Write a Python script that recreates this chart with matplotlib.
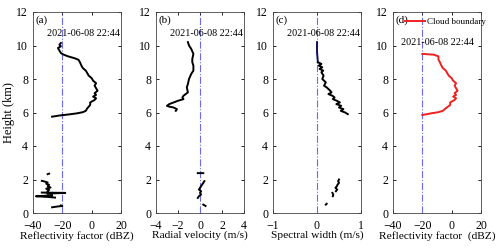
import numpy as np
import matplotlib
matplotlib.use('Agg')
import matplotlib.pyplot as plt

nan = np.nan
stamp = '2021-06-08 22:44'

# (a) reflectivity factor (dBZ) vs height (km)
h_cloud = [5.75, 5.82, 5.88, 5.95, 6.02, 6.1, 6.25, 6.45, 6.6, 6.75, 6.85, 6.95, 7.05, 7.15,
           7.3, 7.45, 7.6, 7.75, 7.9, 8.05, 8.2, 8.35, 8.5, 8.65, 8.8, 9.0, 9.15, 9.25, 9.35,
           9.45, 9.55, 9.7, 9.85, 9.95, 10.05, 10.15]
z_cloud = [-27, -22, -16, -10, -6, -4, -3, -1, -1, 2, 3, 1, 3, 2, 4, 3, 2, 3, 1, 0, -2, -3,
           -4, -6, -7, -8, -9, -12, -16, -19, -21, -22, -23, -21, -22, -21]
h_low_a = [2.35, 2.32, nan, 1.92, 1.88, 1.82, 1.75, 1.68, 1.6, 1.52, 1.45, 1.38, 1.3, nan,
           1.22, 1.2, 1.16, nan, 1.05, 1.0, 0.96, 0.92, nan, 0.45, 0.42, 0.38, 0.34]
z_low_a = [-29, -30, nan, -34, -32, -30, -31, -29, -30, -28, -31, -29, -30, nan,
           -34, -18, -30, nan, -27, -38, -30, -25, nan, -21, -20, -24, -27]

# (b) radial velocity (m/s)
h_vel = [10.2, 10.0, 9.8, 9.5, 9.2, 9.0, 8.8, 8.5, 8.3, 8.0, 7.7, 7.5, 7.2, 7.0, 6.9, 6.8,
         6.7, 6.6, 6.5, 6.4, 6.35, 6.3, 6.2, 6.1]
v_vel = [-1.1, -1.0, -0.8, -0.6, -0.7, -0.7, -0.6, -0.6, -0.8, -1.0, -1.1, -1.2, -1.1, -1.5,
         -1.6, -1.5, -2.0, -2.4, -2.8, -3.0, -2.8, -2.4, -2.1, -2.2]
h_low_b = [2.38, 2.38, nan, 1.9, 1.8, 1.7, 1.6, 1.5, 1.4, 1.3, 1.2, 1.1, 1.0, 0.9, nan, 0.5, 0.42]
v_low_b = [-0.2, 0.3, nan, 0.4, 0.3, 0.2, 0.1, 0.0, -0.1, 0.1, 0.0, 0.1, -0.1, -0.2, nan, 0.3, 0.5]

# (c) spectral width (m/s)
h_sw = [10.2, 9.6, 9.0, 8.9, 8.8, 8.7, 8.6, 8.5, 8.4, 8.2, 8.0, 7.8, 7.6, 7.5, 7.3, 7.2, 7.1,
        7.0, 6.9, 6.8, 6.7, 6.6, 6.5, 6.4, 6.3, 6.2, 6.1, 6.0, 5.9]
w_sw = [0.0, 0.0, 0.02, 0.1, 0.04, 0.12, 0.06, 0.14, 0.1, 0.15, 0.12, 0.2, 0.16, 0.22, 0.3,
        0.33, 0.26, 0.35, 0.4, 0.36, 0.45, 0.52, 0.44, 0.55, 0.5, 0.6, 0.54, 0.64, 0.7]
h_low_c = [2.0, 1.9, 1.8, 1.7, nan, 1.6, 1.5, 1.4, 1.3, nan, 1.2, 1.1, 1.0, nan, 0.55, 0.5]
w_low_c = [0.5, 0.48, 0.5, 0.47, nan, 0.45, 0.42, 0.46, 0.43, nan, 0.35, 0.37, 0.36, nan, 0.22, 0.2]

# (d) cloud boundary
h_bnd = [5.85, 5.95, 6.02, 6.1, 6.25, 6.45, 6.6, 6.75, 6.85, 6.95, 7.05, 7.15, 7.3, 7.45, 7.6,
         7.75, 7.9, 8.05, 8.2, 8.35, 8.5, 8.65, 8.8, 9.0, 9.15, 9.25, 9.35, 9.45, 9.5]
z_bnd = [-20, -14, -9, -6, -4, -1, -1, 2, 3, 1, 3, 2, 4, 3, 2, 3, 1, 0, -2, -3, -4, -6, -7,
         -8, -9, -9, -9, -12, -20]

plt.rcParams['font.family'] = ['Liberation Serif', 'DejaVu Serif']
plt.rcParams['font.size'] = 8.5

fig = plt.figure(figsize=(5, 2.5), dpi=100)
lefts = [0.066, 0.312, 0.546, 0.786]
axes = [fig.add_axes([l, 0.148, 0.176, 0.804]) for l in lefts]

panels = [
    ('(a)', (-40, 20), [-40, -20, 0, 20], 'Reflectivity factor (dBZ)', -20),
    ('(b)', (-4, 4), [-4, -2, 0, 2, 4], 'Radial velocity (m/s)', 0),
    ('(c)', (-1, 1), [-1, 0, 1], 'Spectral width (m/s)', 0),
    ('(d)', (-40, 20), [-40, -20, 0, 20], 'Reflectivity factor  (dBZ)', -20),
]

for ax, (lab, xl, xt, xlabel, ref) in zip(axes, panels):
    ax.set_xlim(*xl)
    ax.set_ylim(0, 12)
    ax.set_xticks(xt)
    ax.set_yticks(range(0, 13, 2))
    ax.tick_params(direction='in', length=2.5, width=0.6, top=True, right=True, pad=3.5)
    ax.tick_params(axis='x', pad=5)
    ax.set_xlabel(xlabel, labelpad=-1, fontsize=8.2)
    ax.axvline(ref, color='#6a6af0', ls='-.', lw=0.8)
    ax.text(0.03, 0.985, lab, transform=ax.transAxes, ha='left', va='top', fontsize=8)
    for s in ax.spines.values():
        s.set_linewidth(0.6)
        s.set_color('#444444')

axes[0].set_ylabel('Height (km)', labelpad=1, fontsize=9)

axes[0].plot(z_cloud, h_cloud, color='black', lw=1.4)
axes[0].plot(z_low_a, h_low_a, color='black', lw=1.4)
axes[1].plot(v_vel, h_vel, color='black', lw=1.4)
axes[1].plot(v_low_b, h_low_b, color='black', lw=1.4)
axes[2].plot(w_sw[:3], h_sw[:3], color='#101060', lw=1.4)
axes[2].plot(w_sw[2:], h_sw[2:], color='black', lw=1.4)
axes[2].plot(w_low_c, h_low_c, color='black', lw=1.4)
axes[3].plot(z_bnd, h_bnd, color='#ee2020', lw=1.4, label='Cloud boundary')

for ax in axes[:3]:
    ax.text(0.99, 0.895, stamp, transform=ax.transAxes, ha='right', va='center', fontsize=7.3)
axes[3].text(0.92, 0.85, stamp, transform=axes[3].transAxes, ha='right', va='center', fontsize=7.3)
axes[3].legend(loc='upper left', bbox_to_anchor=(0.08, 1.0), frameon=False, fontsize=6.5,
               handlelength=2.2, handletextpad=0.2, borderaxespad=0.2)

fig.savefig('out.png', dpi=100)
